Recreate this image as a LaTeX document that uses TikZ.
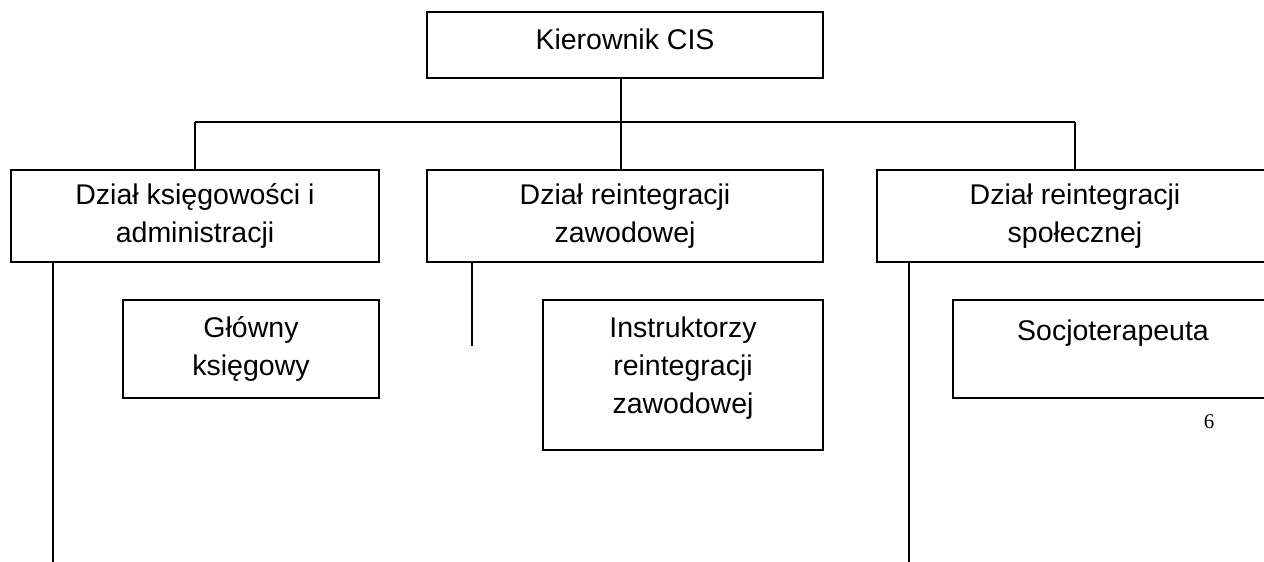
\documentclass[tikz,border=0pt]{standalone}
\usepackage{fontspec}
\setmainfont{Liberation Sans}
\newfontfamily\pagefont{Liberation Serif}
\usetikzlibrary{positioning}

\begin{document}
\begin{tikzpicture}[x=1pt, y=-1pt,
    box/.style={draw, line width=2.4pt, align=center, inner sep=0pt,
        font=\fontsize{28.5}{38}\selectfont},
    conn/.style={line width=1.6pt}]
    % obszar strony
    \clip (0,0) rectangle (1264,562);
    \fill[white] (0,0) rectangle (1264,562);

    % kierownik
    \node[box, minimum width=396pt, minimum height=66pt, text depth=12pt] (kier) at (625,45) {Kierownik CIS};

    % działy
    \node[box, minimum width=368pt, minimum height=92pt] (dzial1) at (195,216) {Dział księgowości i\\administracji};
    \node[box, minimum width=396pt, minimum height=92pt] (dzial2) at (625,216) {Dział reintegracji\\zawodowej};
    \node[box, minimum width=396pt, minimum height=92pt] (dzial3) at (1075,216) {Dział reintegracji\\społecznej};

    % stanowiska
    \node[box, minimum width=256pt, minimum height=98pt] (glowny) at (251,349) {Główny\\księgowy};
    \node[box, minimum width=280pt, minimum height=150pt, text depth=20pt] (instr) at (683,375) {Instruktorzy\\reintegracji\\zawodowej};
    \node[box, minimum width=320pt, minimum height=98pt] (socjo) at (1113,349) {Socjoterapeuta\\~};

    % numer strony
    \node[font=\pagefont\fontsize{21}{24}\selectfont] (strona) at (1209,422) {6};

    % połączenia
    \coordinate (bus) at (621,122);
    \draw[conn] (kier.south -| bus) -- (bus);
    \draw[conn] (dzial1.north |- bus) -- (dzial3.north |- bus);
    \draw[conn] (dzial1.north) -- (dzial1.north |- bus);
    \draw[conn] (dzial2.north -| bus) -- (bus);
    \draw[conn] (dzial3.north) -- (dzial3.north |- bus);

    % linie pionowe pod działami
    \coordinate (l1) at (53,562);
    \coordinate (l2) at (472,346);
    \coordinate (l3) at (909,562);
    \draw[conn] (l1 |- dzial1.south) -- (l1);
    \draw[conn] (l2 |- dzial2.south) -- (l2);
    \draw[conn] (l3 |- dzial3.south) -- (l3);
\end{tikzpicture}
\end{document}
